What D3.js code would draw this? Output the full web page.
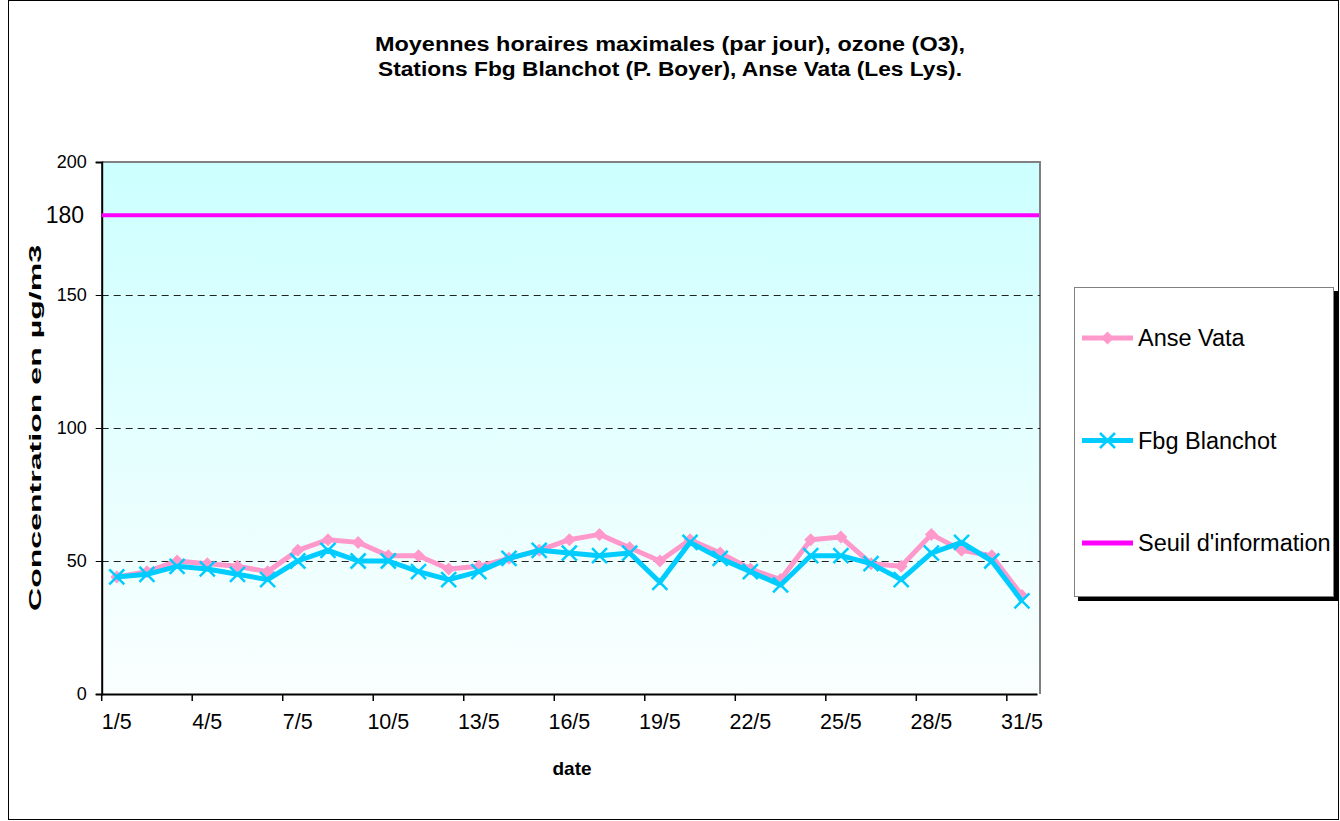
<!DOCTYPE html>
<html lang="fr">
<head>
  <meta charset="UTF-8">
  <title>Moyennes horaires maximales (par jour), ozone (O3)</title>
  <script src="https://cdn.jsdelivr.net/npm/d3@7/dist/d3.min.js"></script>
  <style>
    body { margin: 0; background: #fff; font-family: Arial, "Liberation Sans", sans-serif; }
    svg text { font-family: Arial, "Liberation Sans", sans-serif; fill: #000; }
    .title { font-size: 20px; font-weight: bold; text-anchor: middle; }
    .axis-label { font-size: 19px; font-weight: bold; }
  </style>
</head>
<body>
  <script>
    const days = d3.range(1, 32).map(d => d + "/5");
    const anseVata = [44, 46, 50, 49, 48, 46, 54, 58, 57, 52, 52, 47, 48, 51, 54, 58, 60, 55, 50, 58, 53, 47, 43, 58, 59, 49, 48, 60, 54, 52, 37];
    const fbgBlanchot = [44, 45, 48, 47, 45, 43, 50, 54, 50, 50, 46, 43, 46, 51, 54, 53, 52, 53, 42, 57, 51, 46, 41, 52, 52, 49, 43, 53, 57, 50, 35];
    const seuil = 180;
    const yTicks = [0, 50, 100, 150, 200];
    const gridTicks = [50, 100, 150];

    const W = 1340, H = 821;
    const plot = {left: 101.7, right: 1037, top: 162, bottom: 694};

    const svg = d3.select("body").append("svg")
      .attr("width", W).attr("height", H);

    // chart area border
    svg.append("rect")
      .attr("x", 8.5).attr("y", 0.5)
      .attr("width", 1330).attr("height", 819)
      .attr("fill", "#fff").attr("stroke", "#000").attr("stroke-width", 1);

    const x = d3.scaleBand().domain(days).range([plot.left, plot.right]).padding(0);
    const y = d3.scaleLinear().domain([0, 200]).range([plot.bottom, plot.top]);

    const grad = svg.append("defs").append("linearGradient")
      .attr("id", "bg").attr("x1", 0).attr("y1", 0).attr("x2", 0).attr("y2", 1);
    grad.append("stop").attr("offset", "0%").attr("stop-color", "#ccffff");
    grad.append("stop").attr("offset", "100%").attr("stop-color", "#fafffe");

    svg.append("rect")
      .attr("x", plot.left).attr("y", plot.top)
      .attr("width", plot.right - plot.left + 3).attr("height", plot.bottom - plot.top)
      .attr("fill", "url(#bg)");

    // plot border (top & right, gray)
    svg.append("path")
      .attr("d", `M${plot.left},${plot.top}H${plot.right + 3}V${plot.bottom}`)
      .attr("fill", "none").attr("stroke", "#808080").attr("stroke-width", 2);

    // gridlines
    svg.append("g").selectAll("line").data(gridTicks).enter().append("line")
      .attr("x1", plot.left).attr("x2", plot.right + 3)
      .attr("y1", d => y(d) + 0.5).attr("y2", d => y(d) + 0.5)
      .attr("stroke", "#222").attr("stroke-width", 1)
      .attr("stroke-dasharray", "7,5");

    // y axis
    const yAxis = svg.append("g")
      .attr("transform", `translate(${plot.left},0)`)
      .call(d3.axisLeft(y).tickValues(yTicks).tickSize(6).tickPadding(9));
    yAxis.select(".domain").attr("stroke", "#000").attr("stroke-width", 2);
    yAxis.selectAll(".tick line").attr("stroke", "#000");
    yAxis.selectAll(".tick text").attr("font-size", 18).attr("fill", "#000");

    svg.append("text")
      .attr("x", 84).attr("y", y(seuil))
      .attr("dy", "0.36em")
      .attr("text-anchor", "end")
      .attr("font-size", 23)
      .text(seuil);

    // x axis
    const xAxis = svg.append("g")
      .attr("transform", `translate(0,${plot.bottom})`)
      .call(d3.axisBottom(x)
        .tickValues(days.filter((d, i) => i % 3 === 0))
        .tickSize(0).tickPadding(20));
    xAxis.select(".domain").attr("stroke", "#000").attr("stroke-width", 2);
    xAxis.selectAll(".tick text").attr("font-size", 21.5).attr("fill", "#000");

    svg.append("g").selectAll("line")
      .data(days.filter((d, i) => i % 3 === 0))
      .enter().append("line")
      .attr("x1", d => x(d)).attr("x2", d => x(d))
      .attr("y1", plot.bottom).attr("y2", plot.bottom + 7)
      .attr("stroke", "#000").attr("stroke-width", 1.5);

    // threshold line
    svg.append("line")
      .attr("x1", plot.left).attr("x2", plot.right + 2)
      .attr("y1", y(seuil)).attr("y2", y(seuil))
      .attr("stroke", "#ff00ff").attr("stroke-width", 4);

    const cx = (d, i) => x(days[i]) + x.bandwidth() / 2;
    const line = d3.line().x(cx).y(d => y(d));
    const diamond = "M0,-6.5L6.5,0L0,6.5L-6.5,0Z";
    const cross = "M-7.5,-7.5L7.5,7.5M-7.5,7.5L7.5,-7.5";

    // Anse Vata
    svg.append("path").datum(anseVata)
      .attr("d", line).attr("fill", "none")
      .attr("stroke", "#ff99cc").attr("stroke-width", 5)
      .attr("stroke-linejoin", "round");
    svg.append("g").selectAll("path").data(anseVata).enter().append("path")
      .attr("transform", (d, i) => `translate(${cx(d, i)},${y(d)})`)
      .attr("d", diamond)
      .attr("fill", "#ff99cc");

    // Fbg Blanchot
    svg.append("path").datum(fbgBlanchot)
      .attr("d", line).attr("fill", "none")
      .attr("stroke", "#00ccff").attr("stroke-width", 5)
      .attr("stroke-linejoin", "round");
    svg.append("g").selectAll("path").data(fbgBlanchot).enter().append("path")
      .attr("transform", (d, i) => `translate(${cx(d, i)},${y(d)})`)
      .attr("d", cross)
      .attr("stroke", "#00ccff").attr("stroke-width", 2.5);

    // titles
    svg.append("text").attr("class", "title").attr("x", 670).attr("y", 51)
      .attr("textLength", 590).attr("lengthAdjust", "spacingAndGlyphs")
      .text("Moyennes horaires maximales (par jour), ozone (O3),");
    svg.append("text").attr("class", "title").attr("x", 670).attr("y", 76)
      .attr("textLength", 584).attr("lengthAdjust", "spacingAndGlyphs")
      .text("Stations Fbg Blanchot (P. Boyer), Anse Vata (Les Lys).");

    svg.append("text").attr("class", "axis-label")
      .attr("transform", `translate(41,${(plot.top + plot.bottom) / 2}) rotate(-90)`)
      .attr("text-anchor", "middle")
      .attr("font-size", 17)
      .style("font-size", "17px")
      .attr("textLength", 366).attr("lengthAdjust", "spacingAndGlyphs")
      .text("Concentration en µg/m3");

    svg.append("text").attr("class", "axis-label")
      .attr("x", 572).attr("y", 775)
      .attr("text-anchor", "middle")
      .text("date");

    // legend
    const lg = svg.append("g");
    lg.append("rect").attr("x", 1078).attr("y", 291).attr("width", 260).attr("height", 310).attr("fill", "#000");
    lg.append("rect").attr("x", 1074.5).attr("y", 287.5).attr("width", 259).attr("height", 309)
      .attr("fill", "#fff").attr("stroke", "#808080").attr("stroke-width", 1);

    const legendItems = [
      {name: "Anse Vata", color: "#ff99cc", marker: diamond, fill: true},
      {name: "Fbg Blanchot", color: "#00ccff", marker: cross, fill: false},
      {name: "Seuil d'information", color: "#ff00ff", marker: null, fill: false}
    ];
    const ly = d3.scalePoint().domain(legendItems.map(d => d.name)).range([338, 543]);
    legendItems.forEach(d => {
      const yy = ly(d.name);
      lg.append("line").attr("x1", 1082).attr("x2", 1133).attr("y1", yy).attr("y2", yy)
        .attr("stroke", d.color).attr("stroke-width", 5);
      if (d.marker) {
        lg.append("path").attr("transform", `translate(1107.5,${yy})`).attr("d", d.marker)
          .attr("fill", d.fill ? d.color : "none")
          .attr("stroke", d.fill ? "none" : d.color).attr("stroke-width", 2.5);
      }
      lg.append("text").attr("x", 1138).attr("y", yy).attr("dy", "0.36em")
        .attr("font-size", 23.5).text(d.name);
    });
  </script>
</body>
</html>
